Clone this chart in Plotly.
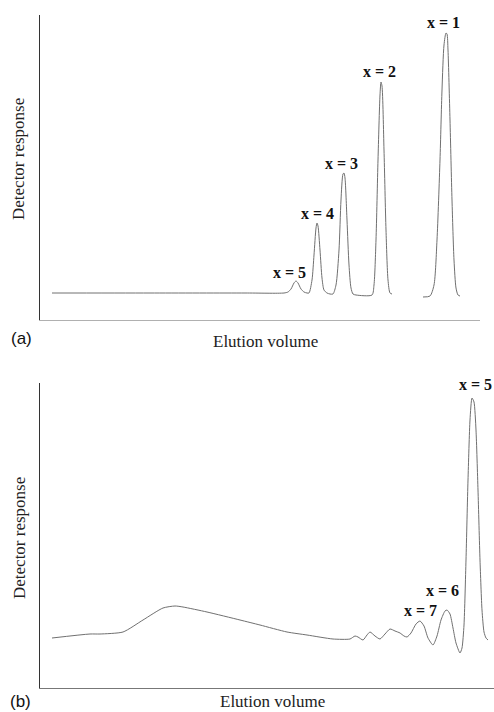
import plotly.graph_objects as go

W, H = 494, 712

# ---- Panel (a): elution volume (arbitrary units) and detector response ----
a_volume = [52, 150, 245, 284,
            288, 291, 294, 296, 298, 301, 304, 307,
            309, 312, 314, 316, 317, 318, 320, 322, 324, 327, 330,
            333, 336, 339, 341, 343, 344, 345, 347, 349, 351, 353, 356,
            372, 374, 376, 378, 380, 381, 382, 384, 386, 388, 390, 392,
            None,
            423, 430, 434, 437, 440, 442, 444, 446, 447, 448, 450, 452, 454, 456, 458, 460]
a_response = [0, 0, 0, 0,
              1, 4, 10, 12, 10, 4, 1, 0,
              0, 13, 38, 65, 70, 67, 43, 15, 3, 0, -1,
              -1, 8, 43, 93, 119, 120, 115, 73, 28, 5, -1, -2,
              -2, 8, 53, 133, 198, 211, 207, 143, 63, 13, 0, -1,
              None,
              -4, -3, 8, 53, 133, 203, 248, 260, 259, 243, 173, 93, 33, 5, -2, -3]
a_labels = ["x = 5", "x = 4", "x = 3", "x = 2", "x = 1"]
a_label_x = [289, 317, 341, 379, 443]
a_label_y = [21, 80, 130, 222, 271]

# ---- Panel (b) ----
b_volume = [52, 90, 100, 123, 143, 163, 175, 183, 207, 240, 260, 287, 307, 333,
            350, 355, 358, 363, 367, 370, 375, 380, 385, 390, 395, 400, 404, 407,
            411, 416, 420, 424, 428, 433, 437, 441, 445, 447, 450, 453, 456, 460,
            462, 464, 466, 468, 470, 472, 474, 476, 478, 480, 482, 484, 486, 488]
b_response = [-1, 3, 3, 5, 17, 29, 31, 30, 25, 17, 12, 5, 2, -2,
              -2, 1, 0, -3, 2, 5, 1, -2, 3, 8, 6, 4, 1, 0,
              4, 13, 16, 11, -1, -8, 1, 17, 26, 27, 23, 9, -6, -16,
              -11, 12, 77, 157, 217, 239, 235, 207, 147, 77, 27, 5, -1, -3]
b_labels = ["x = 5", "x = 6", "x = 7"]
b_label_x = [475, 442, 420]
b_label_y = [252, 47, 27]

SERIF = "Liberation Serif, Times New Roman, serif"
SANS = "Liberation Sans, Arial, sans-serif"
LINE = "#707070"


def py(p):
    return 1 - p / H


fig = go.Figure()
fig.add_trace(go.Scatter(x=a_volume, y=a_response, mode="lines", xaxis="x", yaxis="y",
                         line=dict(color=LINE, width=1, shape="spline", smoothing=0.7),
                         connectgaps=False, hoverinfo="skip", showlegend=False))
fig.add_trace(go.Scatter(x=b_volume, y=b_response, mode="lines", xaxis="x2", yaxis="y2",
                         line=dict(color=LINE, width=1, shape="spline", smoothing=0.6),
                         hoverinfo="skip", showlegend=False))

ann = []
for t, x, y in zip(a_labels, a_label_x, a_label_y):
    ann.append(dict(x=x, y=y, xref="x", yref="y", text="<b>%s</b>" % t, showarrow=False,
                    font=dict(family=SERIF, size=16, color="#111"), xanchor="center", yanchor="middle"))
for t, x, y in zip(b_labels, b_label_x, b_label_y):
    ann.append(dict(x=x, y=y, xref="x2", yref="y2", text="<b>%s</b>" % t, showarrow=False,
                    font=dict(family=SERIF, size=16, color="#111"), xanchor="center", yanchor="middle"))

# axis titles and panel letters
ann += [
    dict(x=19 / W, y=py(159), xref="paper", yref="paper", text="Detector response", textangle=-90,
         showarrow=False, font=dict(family=SERIF, size=17, color="#222"), xanchor="center", yanchor="middle"),
    dict(x=19 / W, y=py(538), xref="paper", yref="paper", text="Detector response", textangle=-90,
         showarrow=False, font=dict(family=SERIF, size=17, color="#222"), xanchor="center", yanchor="middle"),
    dict(x=265 / W, y=py(341), xref="paper", yref="paper", text="Elution volume",
         showarrow=False, font=dict(family=SERIF, size=17, color="#222"), xanchor="center", yanchor="middle"),
    dict(x=272 / W, y=py(701), xref="paper", yref="paper", text="Elution volume",
         showarrow=False, font=dict(family=SERIF, size=17, color="#222"), xanchor="center", yanchor="middle"),
    dict(x=21 / W, y=py(338), xref="paper", yref="paper", text="(a)",
         showarrow=False, font=dict(family=SANS, size=17, color="#111"), xanchor="center", yanchor="middle"),
    dict(x=20 / W, y=py(701), xref="paper", yref="paper", text="(b)",
         showarrow=False, font=dict(family=SANS, size=17, color="#111"), xanchor="center", yanchor="middle"),
]

common = dict(showgrid=False, zeroline=False, showticklabels=False, ticks="")
fig.update_layout(
    width=W, height=H, margin=dict(l=0, r=0, t=0, b=0),
    paper_bgcolor="white", plot_bgcolor="white",
    xaxis=dict(domain=[40 / W, 480 / W], range=[40, 480], anchor="y",
               showline=True, linecolor="#b0b0b0", linewidth=1, **common),
    yaxis=dict(domain=[py(320), py(15)], range=[-27, 278], anchor="x",
               showline=True, linecolor="#333", linewidth=1, **common),
    xaxis2=dict(domain=[40 / W, 1.0], range=[40, 494], anchor="y2",
                showline=True, linecolor="#777", linewidth=1, **common),
    yaxis2=dict(domain=[py(688), py(383)], range=[-51, 254], anchor="x2",
                showline=True, linecolor="#333", linewidth=1, **common),
    annotations=ann,
)

fig.write_html("out.html")
